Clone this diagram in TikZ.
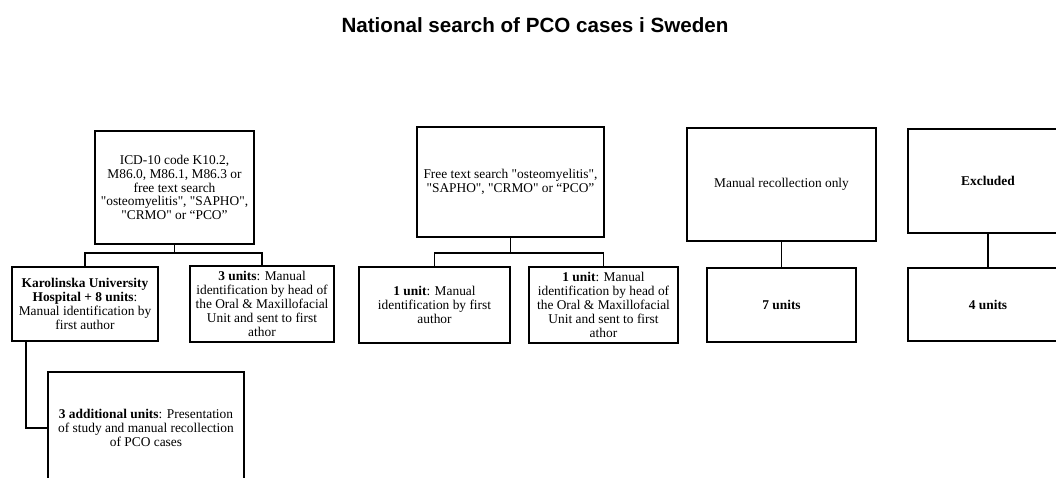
\documentclass[tikz,border=0pt]{standalone}
\usepackage{fontspec}
\setmainfont{Liberation Serif}[Ligatures=TeXOff]
\newfontfamily\titlefont{Liberation Sans}
\begin{document}
\begin{tikzpicture}[x=1pt,y=-1pt,
  box/.style={draw=black,line width=1.3pt,rectangle,inner sep=0pt,align=center,
    font=\fontsize{13.4}{13.8}\selectfont},
  conn/.style={draw=black,line width=1.3pt}]
\useasboundingbox (0,0) rectangle (1056,477);
\clip (0,0) rectangle (1056,477);
\node[font=\titlefont\bfseries\fontsize{20.6}{24}\selectfont,anchor=base] (title) at (535,32) {National search of PCO cases i Sweden};
% column 1
\node[box,minimum width=159,minimum height=113] (A) at (174.5,187.5)
  {ICD-10 code K10.2,\\M86.0, M86.1, M86.3 or\\free text search\\"osteomyelitis", "SAPHO",\\"CRMO" or “PCO”};
\node[box,minimum width=146,minimum height=74] (B) at (85,304)
  {\textbf{Karolinska University}\\\textbf{Hospital + 8 units}: \\Manual identification by\\first author};
\node[box,minimum width=144,minimum height=76] (C) at (262,304)
  {\textbf{3 units}: Manual\\identification by head of\\the Oral \& Maxillofacial\\Unit and sent to first\\athor};
\node[box,minimum width=196,minimum height=112] (D) at (146,428)
  {\textbf{3 additional units}: Presentation\\of study and manual recollection\\of PCO cases};
% column 2
\node[box,minimum width=187,minimum height=110] (E) at (510.5,182)
  {Free text search "osteomyelitis",\\"SAPHO", "CRMO" or “PCO”};
\node[box,minimum width=151,minimum height=76] (F) at (434.5,305)
  {\textbf{1 unit}: Manual\\identification by first\\author};
\node[box,minimum width=149,minimum height=76] (G) at (603.5,305)
  {\textbf{1 unit}: Manual\\identification by head of\\the Oral \& Maxillofacial\\Unit and sent to first\\athor};
% column 3
\node[box,minimum width=189,minimum height=113] (H) at (781.5,184.5) {Manual recollection only};
\node[box,minimum width=149,minimum height=74] (I) at (781.5,305) {\textbf{7 units}};
% column 4
\node[box,minimum width=160,minimum height=104] (J) at (988,181) {\textbf{Excluded}};
\node[box,minimum width=160,minimum height=73] (K) at (988,304.5) {\textbf{4 units}};
% connectors
\coordinate (a1) at (174.5,253);
\draw[conn] (A.south) -- (a1);
\draw[conn] (a1) -| (B.north);
\draw[conn] (a1) -| (C.north);
\coordinate (e1) at (510.5,253);
\draw[conn] (E.south) -- (e1);
\draw[conn] (e1) -| (F.north);
\draw[conn] (e1) -| (G.north);
\draw[conn] (H.south) -- (I.north);
\draw[conn] (J.south) -- (K.north);
\coordinate (b1) at (26,341);
\draw[conn] (b1) |- (D.west);
\end{tikzpicture}
\end{document}
